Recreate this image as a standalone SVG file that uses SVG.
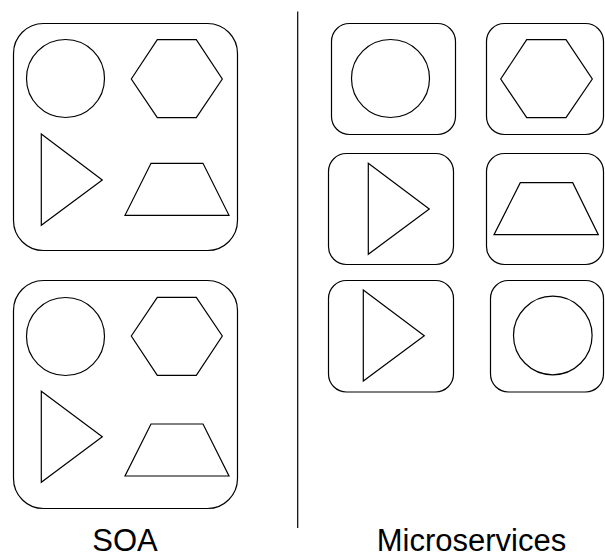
<svg xmlns="http://www.w3.org/2000/svg" width="605" height="558" viewBox="0 0 605 558">
  <style>
    .box { fill: #fff; stroke: #000; stroke-width: 1.2; }
    .shape { fill: none; stroke: #000; stroke-width: 1.2; }
    .divider { stroke: #000; stroke-width: 1.2; }
    .caption { font-family: "Liberation Sans", Arial, sans-serif; font-size: 31px; fill: #000; text-anchor: middle; }
  </style>
  <rect width="605" height="558" fill="#fff"/>

  <!-- SOA: monolithic services bundling several capabilities -->
  <g id="soa-service-1">
    <rect class="box" x="13.5" y="23.5" width="224" height="227" rx="30"/>
    <circle class="shape" cx="65.5" cy="78.5" r="39"/>
    <polygon class="shape" points="131.3,79 157.3,39.7 196.3,39.7 222.3,79 196.3,117.7 157.3,117.7"/>
    <polygon class="shape" points="41.3,134 102.3,180 41.3,225.3"/>
    <polygon class="shape" points="151,163.3 203,163.3 229,215.3 125,215.3"/>
  </g>
  <g id="soa-service-2">
    <rect class="box" x="13.5" y="280.5" width="224" height="228" rx="30"/>
    <circle class="shape" cx="65.5" cy="336.5" r="39"/>
    <polygon class="shape" points="131.3,336 157.3,297.3 196.3,297.3 222.3,336 196.3,375.3 157.3,375.3"/>
    <polygon class="shape" points="41.3,391.3 102.3,436.7 41.3,482.3"/>
    <polygon class="shape" points="151,424 203,424 229,476 125,476"/>
  </g>

  <!-- divider between the two architectures -->
  <g id="connectors">
    <line class="divider" x1="297.7" y1="11.5" x2="297.7" y2="528"/>
  </g>

  <!-- Microservices: one capability per service -->
  <g id="micro-circle-1">
    <rect class="box" x="331.5" y="23.5" width="124" height="111" rx="18"/>
    <circle class="shape" cx="390.5" cy="78.5" r="39"/>
  </g>
  <g id="micro-hexagon">
    <rect class="box" x="486.5" y="23.5" width="117" height="111" rx="18"/>
    <polygon class="shape" points="500.7,79 526.7,39.7 566,39.7 592.3,79 566,117.7 526.7,117.7"/>
  </g>
  <g id="micro-triangle-1">
    <rect class="box" x="328.5" y="153.5" width="125" height="111" rx="18"/>
    <polygon class="shape" points="368.3,163.3 429.3,209 368.3,254.3"/>
  </g>
  <g id="micro-trapezoid">
    <rect class="box" x="486.5" y="153.5" width="117" height="111" rx="18"/>
    <polygon class="shape" points="520.3,182.7 572.7,182.7 598.3,234.7 494,234.7"/>
  </g>
  <g id="micro-triangle-2">
    <rect class="box" x="328.5" y="280.5" width="125" height="111.5" rx="18"/>
    <polygon class="shape" points="363.3,290 424.3,335.7 363.3,381"/>
  </g>
  <g id="micro-circle-2">
    <rect class="box" x="490.5" y="280.5" width="113" height="111.5" rx="18"/>
    <circle class="shape" cx="552.8" cy="335.5" r="39.3"/>
  </g>

  <!-- captions -->
  <text id="label-soa" class="caption" x="125" y="551">SOA</text>
  <text id="label-microservices" class="caption" x="471.5" y="551">Microservices</text>
</svg>
